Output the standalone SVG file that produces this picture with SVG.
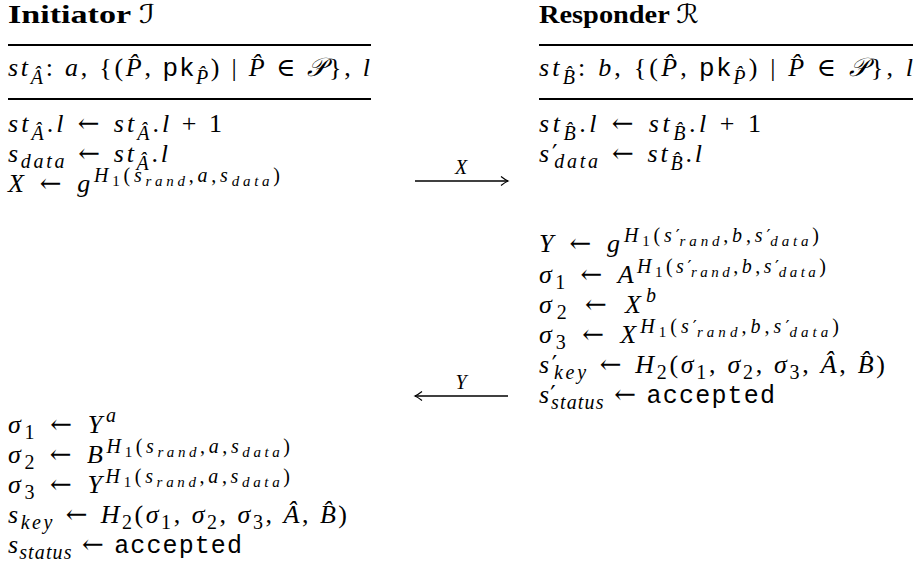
<svg xmlns="http://www.w3.org/2000/svg" width="921" height="564" viewBox="0 0 921 564">
<defs>
<style>
text{font-family:"Liberation Serif","DejaVu Serif",serif;font-size:26px;font-style:italic;fill:#000}
.h{font-weight:bold;font-style:normal}
.cal{font-family:"DejaVu Serif","DejaVu Sans",serif;font-weight:normal;font-style:normal}
.u{font-style:normal}
.ar{font-family:"DejaVu Serif",serif;font-style:normal}
.pr{font-family:"DejaVu Sans",sans-serif;font-style:normal;font-size:24px}
.prs{font-family:"DejaVu Sans",sans-serif;font-style:normal;font-size:18px}
.s{font-size:20px}
.ss{font-size:15px}
.tt{font-family:"Liberation Mono",monospace;font-style:normal;font-size:25px}
.sf{font-family:"Liberation Sans",sans-serif;font-style:normal}
.lbl{font-size:20px}
.rule{stroke:#000;stroke-width:2}
.conn{stroke:#000;stroke-width:1.3;fill:none}
</style>
<marker id="ah" viewBox="-9 -5 11 10" markerWidth="11" markerHeight="10" refX="0" refY="0" orient="auto" markerUnits="userSpaceOnUse">
<path d="M-7,-4.5 Q-2.5,-1 0,0 Q-2.5,1 -7,4.5" fill="none" stroke="#000" stroke-width="1.2"/>
</marker>
</defs>
<rect width="921" height="564" fill="#fff"/>

<g id="initiator">
<text x="8" y="23" class="h" textLength="147" lengthAdjust="spacingAndGlyphs">Initiator <tspan class="cal">ℐ</tspan></text>
<line class="rule" x1="8" y1="45" x2="371" y2="45"/>
<text x="8" y="76" textLength="362" lengthAdjust="spacing">st<tspan class="s" dy="8">Â</tspan><tspan class="u" dy="-8">:</tspan> a<tspan class="u">, {(</tspan>P̂<tspan class="u">, </tspan><tspan class="sf">pk</tspan><tspan class="s" dy="8">P̂</tspan><tspan class="u" dy="-8">) | </tspan>P̂ <tspan class="u">∈</tspan> 𝒫<tspan class="u">}, </tspan>l</text>
<line class="rule" x1="8" y1="99" x2="371" y2="99"/>
<text x="8" y="132" textLength="214" lengthAdjust="spacing">st<tspan class="s" dy="8">Â</tspan><tspan class="u" dy="-8">.</tspan>l<tspan class="ar"> ← </tspan>st<tspan class="s" dy="8">Â</tspan><tspan class="u" dy="-8">.</tspan>l <tspan class="u">+ 1</tspan></text>
<text x="8" y="162" textLength="160" lengthAdjust="spacing">s<tspan class="s" dy="6">data</tspan><tspan class="ar" dy="-6"> ← </tspan>st<tspan class="s" dy="8">Â</tspan><tspan class="u" dy="-8">.</tspan>l</text>
<text x="8" y="192" textLength="272" lengthAdjust="spacing">X<tspan class="ar"> ← </tspan>g<tspan class="s" dy="-10">H</tspan><tspan class="ss u" dy="4">1</tspan><tspan class="s u" dy="-4">(</tspan><tspan class="s">s</tspan><tspan class="ss" dy="4">rand</tspan><tspan class="s u" dy="-4">,</tspan><tspan class="s">a</tspan><tspan class="s u">,</tspan><tspan class="s">s</tspan><tspan class="ss" dy="4">data</tspan><tspan class="s u" dy="-4">)</tspan></text>

<text x="8" y="433" textLength="108" lengthAdjust="spacing">σ<tspan class="s u" dy="6">1</tspan><tspan class="ar" dy="-6"> ← </tspan>Y<tspan class="s" dy="-11">a</tspan></text>
<text x="8" y="463" textLength="282" lengthAdjust="spacing">σ<tspan class="s u" dy="6">2</tspan><tspan class="ar" dy="-6"> ← </tspan>B<tspan class="s" dy="-10">H</tspan><tspan class="ss u" dy="4">1</tspan><tspan class="s u" dy="-4">(</tspan><tspan class="s">s</tspan><tspan class="ss" dy="4">rand</tspan><tspan class="s u" dy="-4">,</tspan><tspan class="s">a</tspan><tspan class="s u">,</tspan><tspan class="s">s</tspan><tspan class="ss" dy="4">data</tspan><tspan class="s u" dy="-4">)</tspan></text>
<text x="8" y="493" textLength="282" lengthAdjust="spacing">σ<tspan class="s u" dy="6">3</tspan><tspan class="ar" dy="-6"> ← </tspan>Y<tspan class="s" dy="-10">H</tspan><tspan class="ss u" dy="4">1</tspan><tspan class="s u" dy="-4">(</tspan><tspan class="s">s</tspan><tspan class="ss" dy="4">rand</tspan><tspan class="s u" dy="-4">,</tspan><tspan class="s">a</tspan><tspan class="s u">,</tspan><tspan class="s">s</tspan><tspan class="ss" dy="4">data</tspan><tspan class="s u" dy="-4">)</tspan></text>
<text x="8" y="523" textLength="339" lengthAdjust="spacing">s<tspan class="s" dy="6">key</tspan><tspan class="ar" dy="-6"> ← </tspan>H<tspan class="s u" dy="6">2</tspan><tspan class="u" dy="-6">(</tspan>σ<tspan class="s u" dy="6">1</tspan><tspan class="u" dy="-6">, </tspan>σ<tspan class="s u" dy="6">2</tspan><tspan class="u" dy="-6">, </tspan>σ<tspan class="s u" dy="6">3</tspan><tspan class="u" dy="-6">, </tspan>Â<tspan class="u">, </tspan>B̂<tspan class="u">)</tspan></text>
<text x="8" y="553" textLength="234" lengthAdjust="spacing">s<tspan class="s" dy="6">status</tspan><tspan class="ar" dy="-6"> ← </tspan><tspan class="tt">accepted</tspan></text>
</g>

<g id="responder">
<text x="539" y="23" class="h" textLength="160" lengthAdjust="spacingAndGlyphs">Responder <tspan class="cal">ℛ</tspan></text>
<line class="rule" x1="539" y1="45" x2="913" y2="45"/>
<text x="539" y="76" textLength="374" lengthAdjust="spacing">st<tspan class="s" dy="8">B̂</tspan><tspan class="u" dy="-8">:</tspan> b<tspan class="u">, {(</tspan>P̂<tspan class="u">, </tspan><tspan class="sf">pk</tspan><tspan class="s" dy="8">P̂</tspan><tspan class="u" dy="-8">) | </tspan>P̂ <tspan class="u">∈</tspan> 𝒫<tspan class="u">}, </tspan>l</text>
<line class="rule" x1="539" y1="99" x2="913" y2="99"/>
<text x="539" y="132" textLength="222" lengthAdjust="spacing">st<tspan class="s" dy="8">B̂</tspan><tspan class="u" dy="-8">.</tspan>l<tspan class="ar"> ← </tspan>st<tspan class="s" dy="8">B̂</tspan><tspan class="u" dy="-8">.</tspan>l <tspan class="u">+ 1</tspan></text>
<text x="539" y="162" textLength="163" lengthAdjust="spacing">s<tspan class="pr">′</tspan><tspan class="s" dx="-6" dy="6">data</tspan><tspan class="ar" dy="-6"> ← </tspan>st<tspan class="s" dy="8">B̂</tspan><tspan class="u" dy="-8">.</tspan>l</text>

<text x="539" y="252" textLength="280" lengthAdjust="spacing">Y<tspan class="ar"> ← </tspan>g<tspan class="s" dy="-10">H</tspan><tspan class="ss u" dy="4">1</tspan><tspan class="s u" dy="-4">(</tspan><tspan class="s">s</tspan><tspan class="prs">′</tspan><tspan class="ss" dx="-4" dy="4">rand</tspan><tspan class="s u" dy="-4">,</tspan><tspan class="s">b</tspan><tspan class="s u">,</tspan><tspan class="s">s</tspan><tspan class="prs">′</tspan><tspan class="ss" dx="-4" dy="4">data</tspan><tspan class="s u" dy="-4">)</tspan></text>
<text x="539" y="283" textLength="287" lengthAdjust="spacing">σ<tspan class="s u" dy="6">1</tspan><tspan class="ar" dy="-6"> ← </tspan>A<tspan class="s" dy="-10">H</tspan><tspan class="ss u" dy="4">1</tspan><tspan class="s u" dy="-4">(</tspan><tspan class="s">s</tspan><tspan class="prs">′</tspan><tspan class="ss" dx="-4" dy="4">rand</tspan><tspan class="s u" dy="-4">,</tspan><tspan class="s">b</tspan><tspan class="s u">,</tspan><tspan class="s">s</tspan><tspan class="prs">′</tspan><tspan class="ss" dx="-4" dy="4">data</tspan><tspan class="s u" dy="-4">)</tspan></text>
<text x="539" y="313" textLength="117" lengthAdjust="spacing">σ<tspan class="s u" dy="6">2</tspan><tspan class="ar" dy="-6"> ← </tspan>X<tspan class="s" dy="-11">b</tspan></text>
<text x="539" y="343" textLength="300" lengthAdjust="spacing">σ<tspan class="s u" dy="6">3</tspan><tspan class="ar" dy="-6"> ← </tspan>X<tspan class="s" dy="-10">H</tspan><tspan class="ss u" dy="4">1</tspan><tspan class="s u" dy="-4">(</tspan><tspan class="s">s</tspan><tspan class="prs">′</tspan><tspan class="ss" dx="-4" dy="4">rand</tspan><tspan class="s u" dy="-4">,</tspan><tspan class="s">b</tspan><tspan class="s u">,</tspan><tspan class="s">s</tspan><tspan class="prs">′</tspan><tspan class="ss" dx="-4" dy="4">data</tspan><tspan class="s u" dy="-4">)</tspan></text>
<text x="539" y="373" textLength="346" lengthAdjust="spacing">s<tspan class="pr">′</tspan><tspan class="s" dx="-6" dy="6">key</tspan><tspan class="ar" dy="-6"> ← </tspan>H<tspan class="s u" dy="6">2</tspan><tspan class="u" dy="-6">(</tspan>σ<tspan class="s u" dy="6">1</tspan><tspan class="u" dy="-6">, </tspan>σ<tspan class="s u" dy="6">2</tspan><tspan class="u" dy="-6">, </tspan>σ<tspan class="s u" dy="6">3</tspan><tspan class="u" dy="-6">, </tspan>Â<tspan class="u">, </tspan>B̂<tspan class="u">)</tspan></text>
<text x="539" y="403" textLength="236" lengthAdjust="spacing">s<tspan class="pr">′</tspan><tspan class="s" dx="-6" dy="6">status</tspan><tspan class="ar" dy="-6"> ← </tspan><tspan class="tt">accepted</tspan></text>
</g>

<g id="connectors">
<g id="msg-X">
<line class="conn" x1="415" y1="181" x2="508" y2="181" marker-end="url(#ah)"/>
<text x="461" y="174" class="lbl" text-anchor="middle">X</text>
</g>
<g id="msg-Y">
<line class="conn" x1="508" y1="396" x2="415" y2="396" marker-end="url(#ah)"/>
<text x="461" y="389" class="lbl" text-anchor="middle">Y</text>
</g>
</g>
</svg>
